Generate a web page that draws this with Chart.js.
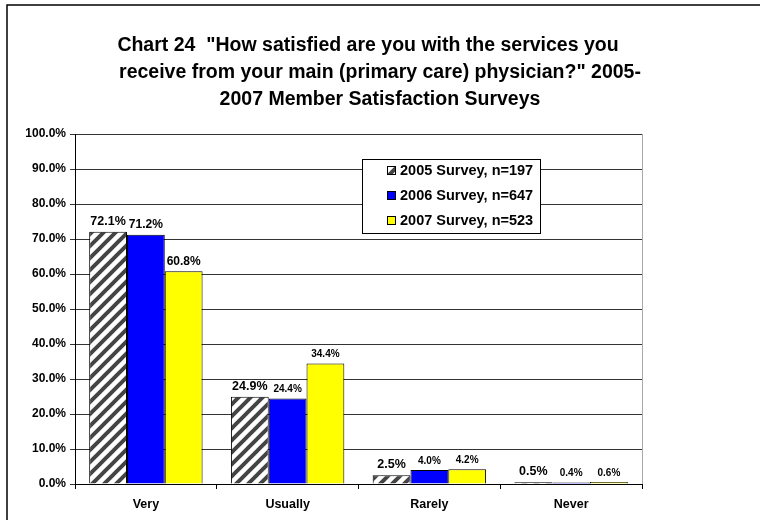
<!DOCTYPE html>
<html>
<head>
<meta charset="utf-8">
<script src="https://cdn.jsdelivr.net/npm/chart.js@4/dist/chart.umd.min.js"></script>
<style>
  body { margin: 0; background: #fff; }
  #wrap { width: 760px; height: 520px; }
</style>
</head>
<body>
<div id="wrap"><canvas id="chart" width="760" height="520"></canvas></div>
<script>
var categories = ['Very', 'Usually', 'Rarely', 'Never'];
var seriesNames = ['2005 Survey, n=197', '2006 Survey, n=647', '2007 Survey, n=523'];
var survey2005 = [72.1, 24.9, 2.5, 0.5];
var survey2006 = [71.2, 24.4, 4.0, 0.4];
var survey2007 = [60.8, 34.4, 4.2, 0.6];
var yMax = 100;
var yStep = 10;
var titleLines = [
  'Chart 24  "How satisfied are you with the services you',
  'receive from your main (primary care) physician?" 2005-',
  '2007 Member Satisfaction Surveys'
];

var FONT = '"Liberation Sans", Arial, sans-serif';

function hatch() {
  var c = document.createElement('canvas');
  c.width = 12; c.height = 12;
  var g = c.getContext('2d');
  g.fillStyle = '#fff';
  g.fillRect(0, 0, 12, 12);
  g.strokeStyle = '#444';
  g.lineWidth = 4;
  g.beginPath();
  g.moveTo(-3, 15); g.lineTo(15, -3);
  g.moveTo(-9, 9); g.lineTo(9, -9);
  g.moveTo(3, 21); g.lineTo(21, 3);
  g.stroke();
  return g.createPattern(c, 'repeat');
}

var extras = {
  id: 'extras',
  beforeDraw: function (chart) {
    var ctx = chart.ctx;
    ctx.save();
    ctx.fillStyle = '#fff';
    ctx.fillRect(0, 0, chart.width, chart.height);
    ctx.strokeStyle = '#000';
    ctx.lineWidth = 1.5;
    ctx.strokeRect(7, 5, 800, 600);
    // title, first line sits a little left as in the original
    ctx.fillStyle = '#000';
    ctx.font = 'bold 19.5px ' + FONT;
    ctx.textAlign = 'center';
    ctx.textBaseline = 'middle';
    var xs = [368, 380, 380];
    titleLines.forEach(function (t, i) {
      ctx.fillText(t, xs[i], 46 + i * 27);
    });
    ctx.restore();
  },
  afterDraw: function (chart) {
    var ctx = chart.ctx;
    var a = chart.chartArea;
    ctx.save();
    // right plot border
    ctx.strokeStyle = '#aaa';
    ctx.lineWidth = 1;
    ctx.beginPath();
    ctx.moveTo(a.right + 0.5, a.top);
    ctx.lineTo(a.right + 0.5, a.bottom);
    ctx.stroke();
    // data labels
    ctx.fillStyle = '#000';
    ctx.textAlign = 'center';
    ctx.textBaseline = 'bottom';
    chart.data.datasets.forEach(function (ds, di) {
      var meta = chart.getDatasetMeta(di);
      meta.data.forEach(function (bar, i) {
        ctx.font = 'bold ' + ds.labelSize[i] + 'px ' + FONT;
        ctx.fillText(ds.data[i].toFixed(1) + '%', bar.x, bar.y - 4);
      });
    });
    // legend
    var lx = 362, ly = 159, lw = 178, lh = 74;
    ctx.fillStyle = '#fff';
    ctx.fillRect(lx, ly, lw, lh);
    ctx.strokeStyle = '#000';
    ctx.strokeRect(lx + 0.5, ly + 0.5, lw, lh);
    ctx.font = 'bold 14.5px ' + FONT;
    ctx.textAlign = 'left';
    ctx.textBaseline = 'middle';
    chart.data.datasets.forEach(function (ds, di) {
      var y = 171 + di * 25;
      ctx.fillStyle = ds.backgroundColor;
      ctx.fillRect(387, y - 5, 9, 9);
      ctx.strokeStyle = '#000';
      ctx.strokeRect(387.5, y - 4.5, 8, 8);
      ctx.fillStyle = '#000';
      ctx.fillText(ds.label, 400, y);
    });
    ctx.restore();
  }
};

document.addEventListener('DOMContentLoaded', function () {
  new Chart(document.getElementById('chart').getContext('2d'), {
    type: 'bar',
    data: {
      labels: categories,
      datasets: [{
        label: seriesNames[0],
        data: survey2005,
        backgroundColor: hatch(),
        borderColor: '#000',
        borderWidth: 1,
        labelSize: [12.5, 12.5, 12.5, 12.5]
      }, {
        label: seriesNames[1],
        data: survey2006,
        backgroundColor: '#0000ff',
        borderColor: '#000',
        borderWidth: 1,
        labelSize: [12, 10, 10, 10]
      }, {
        label: seriesNames[2],
        data: survey2007,
        backgroundColor: '#ffff00',
        borderColor: '#000',
        borderWidth: 1,
        labelSize: [12, 10, 10, 10]
      }]
    },
    options: {
      responsive: false,
      animation: false,
      layout: { padding: { top: 134, right: 118, left: 0, bottom: 0 } },
      datasets: { bar: { categoryPercentage: 0.8, barPercentage: 1.0 } },
      plugins: { legend: { display: false }, title: { display: false }, tooltip: { enabled: false } },
      scales: {
        x: {
          afterFit: function (s) { s.height = 36; },
          grid: { offset: true, drawOnChartArea: false, drawTicks: true, tickLength: 5, color: '#000' },
          border: { color: '#000', width: 1 },
          ticks: { color: '#000', padding: 8, font: { family: FONT, size: 12.5, weight: 'bold' } }
        },
        y: {
          min: 0,
          max: yMax,
          afterFit: function (s) { s.width = 75; },
          grid: { color: '#333', tickLength: 5 },
          border: { color: '#000', width: 1 },
          ticks: {
            stepSize: yStep,
            color: '#000',
            padding: 4,
            font: { family: FONT, size: 12, weight: 'bold' },
            callback: function (v) { return v.toFixed(1) + '%'; }
          }
        }
      }
    },
    plugins: [extras]
  });
});
</script>
</body>
</html>
